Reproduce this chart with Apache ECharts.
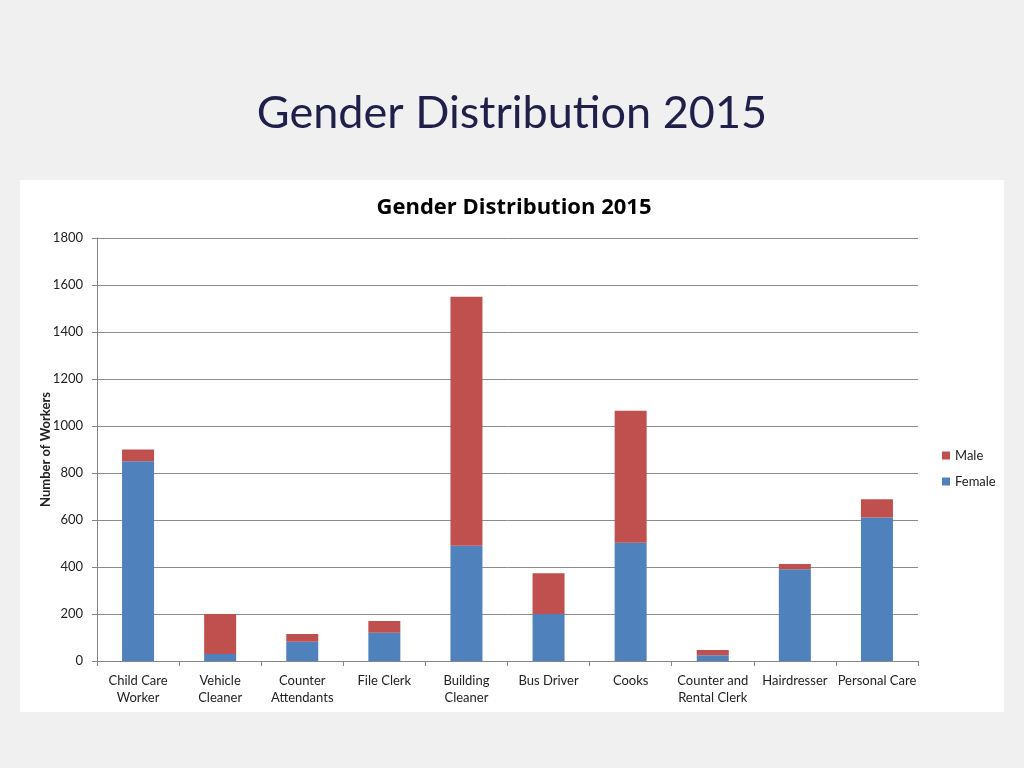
<!DOCTYPE html>
<html>
<head>
<meta charset="utf-8">
<script src="https://cdn.jsdelivr.net/npm/echarts@6/dist/echarts.min.js"></script>
<style>
html,body{margin:0;padding:0;background:#f0f0f0;}
#c{width:1024px;height:768px;}
</style>
</head>
<body>
<div id="c"></div>
<script>
const categories = ["Child Care\nWorker","Vehicle\nCleaner","Counter\nAttendants","File Clerk","Building\nCleaner","Bus Driver","Cooks","Counter and\nRental Clerk","Hairdresser","Personal Care"];
const female = [850, 30, 82, 120, 490, 200, 503, 24, 390, 611];
const male = [50, 170, 33, 50, 1060, 173, 562, 23, 23, 77];
const yTicks = {min: 0, max: 1800, interval: 200};

const chart = echarts.init(document.getElementById('c'));
chart.setOption({
  backgroundColor: '#f0f0f0',
  animation: false,
  graphic: [{
    type: 'rect', z: -10,
    shape: {x: 20, y: 180, width: 984, height: 532},
    style: {fill: '#ffffff'}
  }],
  title: [{
    text: 'Gender Distribution 2015',
    left: 'center', top: 86,
    textStyle: {fontFamily: 'Lato', fontSize: 45, fontWeight: 'normal', color: '#1f1f4a'}
  }, {
    text: 'Gender Distribution 2015',
    left: 509, textAlign: 'center', top: 192,
    textStyle: {fontFamily: 'Open Sans', fontSize: 22, fontWeight: 'bold', color: '#000'}
  }],
  legend: {
    orient: 'vertical', left: 937, top: 444,
    itemWidth: 8, itemHeight: 8, itemGap: 13,
    data: ['Male', 'Female'],
    textStyle: {fontFamily: 'Lato', fontSize: 13, color: '#222'},
    icon: 'rect'
  },
  grid: {left: 97, right: 106, top: 238, bottom: 107},
  xAxis: {
    type: 'category', data: categories,
    axisLine: {lineStyle: {color: '#868686'}},
    axisTick: {show: true, length: 5, lineStyle: {color: '#868686'}},
    axisLabel: {fontFamily: 'Lato', fontSize: 13, color: '#222', lineHeight: 17, margin: 11, interval: 0}
  },
  yAxis: {
    type: 'value', min: yTicks.min, max: yTicks.max, interval: yTicks.interval,
    name: 'Number of Workers', nameLocation: 'middle', nameGap: 45, nameRotate: 90,
    nameMoveOverlap: false,
    nameTextStyle: {fontFamily: 'Lato', fontSize: 13, fontWeight: 'bold', color: '#222'},
    axisLine: {show: true, lineStyle: {color: '#868686'}},
    axisTick: {show: true, length: 5, lineStyle: {color: '#868686'}},
    axisLabel: {fontFamily: 'Lato', fontSize: 13, color: '#222', margin: 14, formatter: function (v) { return String(v); }},
    splitLine: {lineStyle: {color: '#8c8c8c'}}
  },
  series: [{
    name: 'Female', type: 'bar', stack: 'g', data: female, barWidth: 32,
    itemStyle: {color: '#4f81bd'}
  }, {
    name: 'Male', type: 'bar', stack: 'g', data: male, barWidth: 32,
    itemStyle: {color: '#c0504d'}
  }]
});
</script>
</body>
</html>
